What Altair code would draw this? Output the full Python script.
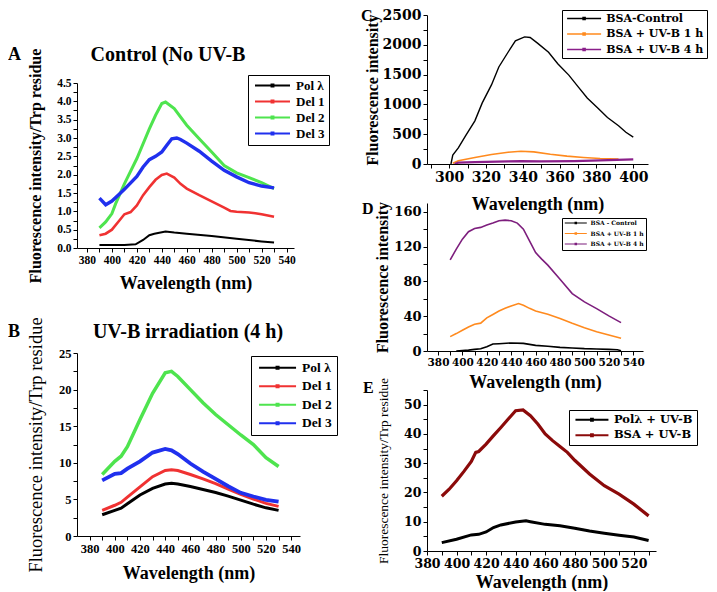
import altair as alt
import pandas as pd

SERIF = "Liberation Serif"
WIDE = "DejaVu Serif"
# legend symbol: a line running from 0 to 5*sqrt(size) px with a small marker in its middle
SYM = "M-1,0H9M3.7,-0.3H4.3V0.3H3.7Z"

# ---------------- Panel A : Control (No UV-B) ----------------
A_TITLE = "Control (No UV-B"
A_SERIES = ["Pol λ", "Del 1", "Del 2", "Del 3"]
A_COLORS = ["#000000", "#f03232", "#4ee44e", "#2030ee"]
A_WIDTHS = [2, 2.6, 3, 3.4]
A_POL_WL = [390, 400, 410, 419, 425, 430, 434, 443, 450, 460, 480, 500, 520, 530]
A_POL = [0.08, 0.08, 0.085, 0.10, 0.22, 0.35, 0.39, 0.45, 0.42, 0.39, 0.33, 0.25, 0.18, 0.15]
A_DEL1_WL = [390, 395, 400, 405, 410, 415, 420, 425, 430, 435, 440, 444, 450, 455, 460,
             470, 480, 490, 495, 500, 510, 515, 520, 530]
A_DEL1 = [0.35, 0.39, 0.50, 0.71, 0.92, 0.98, 1.16, 1.44, 1.66, 1.86, 1.99, 2.03, 1.92, 1.75,
          1.62, 1.44, 1.27, 1.10, 1.01, 0.99, 0.97, 0.95, 0.92, 0.85]
A_DEL2_WL = [390, 395, 400, 403, 410, 420, 430, 435, 440, 443, 450, 460, 470, 480, 490, 500,
             510, 520, 530]
A_DEL2 = [0.55, 0.71, 0.94, 1.21, 1.75, 2.44, 3.25, 3.62, 3.94, 3.98, 3.80, 3.35, 2.98, 2.62,
          2.25, 2.05, 1.92, 1.78, 1.62]
A_DEL3_WL = [390, 395, 400, 405, 410, 420, 425, 430, 435, 440, 444, 448, 452, 455, 460, 470,
             480, 490, 500, 510, 520, 530]
A_DEL3 = [1.36, 1.18, 1.28, 1.44, 1.60, 1.95, 2.21, 2.41, 2.50, 2.62, 2.80, 2.98, 3.00, 2.96,
          2.86, 2.64, 2.37, 2.12, 1.94, 1.78, 1.69, 1.64]

# ---------------- Panel B : UV-B irradiation (4 h) ----------------
B_TITLE = "UV-B irradiation (4 h)"
B_SERIES = ["Pol λ", "Del 1", "Del 2", "Del 3"]
B_COLORS = ["#000000", "#f03232", "#4ee44e", "#2030ee"]
B_WIDTHS = [3, 3, 3.5, 3.8]
B_WL = [390, 400, 405, 410, 420, 430, 440, 445, 450, 460, 470, 480, 490, 500, 510, 520, 530]
B_POL = [2.9, 3.5, 3.8, 4.4, 5.6, 6.5, 7.1, 7.2, 7.1, 6.75, 6.35, 5.95, 5.45, 4.9, 4.35, 3.85, 3.5]
B_DEL1 = [3.5, 4.2, 4.6, 5.3, 6.7, 8.1, 8.95, 9.05, 8.95, 8.4, 7.8, 7.15, 6.4, 5.7, 5.05, 4.45, 4.05]
B_DEL2 = [8.4, 10.2, 10.9, 12.2, 15.9, 19.5, 22.3, 22.5, 21.8, 20.0, 18.2, 16.6, 15.2, 13.8, 12.5,
          10.7, 9.5]
B_DEL3 = [7.6, 8.5, 8.6, 9.2, 10.2, 11.4, 11.9, 11.7, 11.2, 9.9, 8.8, 7.8, 6.8, 5.9, 5.4, 4.95, 4.7]

# ---------------- Panel C ----------------
C_SERIES = ["BSA-Control", "BSA + UV-B 1 h", "BSA + UV-B 4 h"]
C_COLORS = ["#000000", "#ff8a1e", "#8a1f8a"]
C_WIDTHS = [1.4, 1.6, 2.2]
C_CTRL_WL = [301, 302, 305, 309, 314, 318, 323, 327, 332, 336, 341, 344, 348, 354, 359, 365, 370,
             375, 381, 386, 392, 396, 400]
C_CTRL = [0, 150, 270, 477, 724, 1025, 1327, 1628, 1875, 2067, 2133, 2122, 2028, 1875, 1683, 1491,
          1299, 1107, 932, 779, 641, 532, 450]
C_UV1_WL = [302, 305, 314, 323, 332, 339, 346, 355, 364, 373, 382, 392]
C_UV1 = [11, 55, 110, 159, 197, 214, 203, 164, 132, 110, 93, 82]
C_UV4_WL = [303, 305, 314, 332, 339, 350, 368, 382, 400]
C_UV4 = [0, 22, 33, 44, 49, 44, 49, 60, 77]

# ---------------- Panel D ----------------
D_SERIES = ["BSA - Control", "BSA + UV-B 1 h", "BSA + UV-B 4 h"]
D_COLORS = ["#000000", "#ff8a1e", "#7d1e7d"]
D_WIDTHS = [1.6, 1.6, 1.6]
D_CTRL_WL = [395, 400, 405, 410, 415, 420, 425, 430, 440, 450, 460, 470, 480, 490, 500, 510, 520,
             527, 530]
D_CTRL = [0, 0.5, 1, 1.9, 2.5, 5, 8, 8.4, 9.2, 8.8, 6.5, 5.4, 4.2, 3.5, 2.7, 2.3, 1.9, 1.5, 0.4]
D_UV1_WL = [390, 395, 400, 405, 410, 415, 420, 425, 430, 435, 440, 446, 450, 455, 460, 470, 480,
            490, 500, 510, 520, 530]
D_UV1 = [16.5, 20, 23.8, 27.5, 30.7, 32, 38, 42, 46, 49, 51.8, 54.5, 52.5, 49, 46, 42.2, 37.2,
         31.8, 26.8, 22.2, 18.4, 14.6]
D_UV4_WL = [390, 395, 400, 405, 410, 415, 420, 425, 430, 435, 440, 445, 450, 455, 460, 465, 470,
            480, 490, 500, 510, 520, 530]
D_UV4 = [104.7, 117, 128.5, 137, 140.7, 142, 144.6, 146.9, 149.6, 150.3, 149.6, 146.9, 140, 126.6,
         113, 105.5, 98.6, 82.5, 66, 56.4, 48.7, 40.3, 32.6]

# ---------------- Panel E ----------------
E_SERIES = ["Polλ + UV-B", "BSA + UV-B"]
E_COLORS = ["#000000", "#8b0a0a"]
E_WIDTHS = [3, 3.2]
E_POL_WL = [390, 400, 410, 415, 420, 425, 430, 440, 447, 450, 460, 470, 480, 490, 500, 510, 520, 530]
E_POL = [2.85, 4, 5.5, 5.7, 6.5, 8, 8.9, 9.9, 10.3, 10, 9.1, 8.6, 7.8, 6.8, 6.1, 5.4, 4.8, 3.6]
E_BSA_WL = [390, 395, 400, 405, 410, 413, 415, 420, 425, 430, 435, 440, 445, 450, 455, 460, 465,
            470, 475, 480, 490, 500, 510, 520, 530]
E_BSA = [18.7, 21.1, 24, 27.2, 30.6, 33.7, 34, 36.5, 39.4, 42.2, 45.1, 47.9, 48.2, 46.2, 43.4, 40,
         37.7, 35.7, 33.7, 31, 26.3, 22.3, 19.4, 16, 12]


def long_df(names, wls, vals):
    rows = []
    for name, wl, v in zip(names, wls, vals):
        for x, y in zip(wl, v):
            rows.append({"wl": x, "val": y, "series": name})
    return pd.DataFrame(rows)


def text_layer(txt, x, y, size, weight="bold", align="left", baseline="middle", font=SERIF):
    return alt.Chart(pd.DataFrame({"t": [txt]})).mark_text(
        font=font, fontSize=size, fontWeight=weight, align=align, baseline=baseline,
        color="black").encode(text="t:N", x=alt.value(x), y=alt.value(y))


def anchor_layer(x, y):
    return alt.Chart(pd.DataFrame({"a": [0]})).mark_rule(strokeOpacity=0, strokeWidth=0).encode(
        x=alt.value(x), y=alt.value(y), y2=alt.value(y + 1))


def panel(df, series, colors, widths, xdom, ydom, w, h, xvals, xlab_expr, yvals, ylab_expr,
          xaxis_style, yaxis_style, legend, extra_layers):
    xa = alt.Axis(values=xvals, labelExpr=xlab_expr, grid=False, domainColor="black",
                  tickColor="black", tickSize=4, labelColor="black", labelPadding=2,
                  labelOverlap=False, labelFlush=False, titleColor="black",
                  titleBaseline="middle", **xaxis_style)
    ya = alt.Axis(values=yvals, labelExpr=ylab_expr, grid=False, domainColor="black",
                  tickColor="black", tickSize=4, labelColor="black", labelPadding=2,
                  labelOverlap=False, labelFlush=False, titleColor="black",
                  titleBaseline="middle", titleAngle=-90, **yaxis_style)
    layers = []
    for s, sw in zip(series, widths):
        layers.append(
            alt.Chart(df).transform_filter(alt.datum.series == s).mark_line(
                clip=True, strokeWidth=sw).encode(
                x=alt.X("wl:Q", scale=alt.Scale(domain=xdom, nice=False, zero=False), axis=xa),
                y=alt.Y("val:Q", scale=alt.Scale(domain=ydom, nice=False, zero=False), axis=ya),
                color=alt.Color("series:N", scale=alt.Scale(domain=series, range=colors),
                                legend=legend, sort=series),
            ))
    return alt.layer(*layers, *extra_layers).properties(width=w, height=h)


def leg(x, y, font, size, line_len, rowpad, pad, stroke=1.8):
    s = line_len / 5.0
    return alt.Legend(title=None, orient="none", legendX=x, legendY=y, direction="vertical",
                      strokeColor="black", fillColor="white", padding=pad, cornerRadius=0,
                      symbolType=SYM, symbolSize=s * s, symbolStrokeWidth=stroke,
                      labelFont=font, labelFontSize=size, labelFontWeight="bold",
                      labelColor="black", rowPadding=rowpad, labelOffset=line_len - s + 3)


def ticks(lo, hi, step):
    out = []
    v = lo
    while v <= hi + 1e-9:
        out.append(round(v, 4))
        v += step
    return out


LAB20 = "datum.value % 20 == 0 ? format(datum.value, 'd') : ''"

# ----- A -----
dfA = long_df(A_SERIES, [A_POL_WL, A_DEL1_WL, A_DEL2_WL, A_DEL3_WL], [A_POL, A_DEL1, A_DEL2, A_DEL3])
chA = panel(
    dfA, A_SERIES, A_COLORS, A_WIDTHS, [372, 546], [0, 4.5], 217, 165,
    ticks(380, 540, 10), LAB20, ticks(0, 4.5, 0.25),
    "(datum.value * 2) % 1 == 0 ? format(datum.value, '.1f') : ''",
    dict(title="Wavelength (nm)", labelFont=SERIF, labelFontSize=11.5, labelFontWeight="bold",
         titleFont=SERIF, titleFontSize=18, titleFontWeight="bold", titleY=35),
    dict(title="Fluorescence intensity/Trp residue", labelFont=SERIF, labelFontSize=11.5,
         labelFontWeight="bold", titleFont=SERIF, titleFontSize=16, titleFontWeight="bold",
         titleX=-42),
    leg(171, -8, SERIF, 13, 35, 2, 4),
    [text_layer("A", -69, -28, 18), text_layer(A_TITLE, 91, -28, 20, align="center")],
)

# ----- B -----
dfB = long_df(B_SERIES, [B_WL] * 4, [B_POL, B_DEL1, B_DEL2, B_DEL3])
chB = panel(
    dfB, B_SERIES, B_COLORS, B_WIDTHS, [370, 547], [0, 25], 223, 183,
    ticks(380, 540, 10), LAB20, ticks(0, 25, 2.5),
    "datum.value % 5 == 0 ? format(datum.value, 'd') : ''",
    dict(title="Wavelength (nm)", labelFont=SERIF, labelFontSize=12.5, labelFontWeight="bold",
         titleFont=SERIF, titleFontSize=18, titleFontWeight="bold", titleY=37),
    dict(title="Fluorescence intensity/Trp residue", labelFont=SERIF, labelFontSize=12.5,
         labelFontWeight="bold", titleFont=SERIF, titleFontSize=18.5, titleFontWeight="normal",
         titleX=-42),
    leg(174, 3, SERIF, 13.5, 37, 3.5, 5),
    [text_layer("B", -69, -21, 18), text_layer(B_TITLE, 111, -21, 20, align="center"),
     anchor_layer(262, 0)],
)

# ----- C -----
dfC = long_df(C_SERIES, [C_CTRL_WL, C_UV1_WL, C_UV4_WL], [C_CTRL, C_UV1, C_UV4])
chC = panel(
    dfC, C_SERIES, C_COLORS, C_WIDTHS, [288, 408], [0, 2500], 221, 149,
    ticks(290, 400, 10), LAB20, ticks(0, 2500, 250),
    "datum.value % 500 == 0 ? format(datum.value, 'd') : ''",
    dict(title="Wavelength (nm)", labelFont=WIDE, labelFontSize=14, labelFontWeight="bold",
         titleFont=SERIF, titleFontSize=18, titleFontWeight="bold", titleY=40),
    dict(title="Fluorescence intensity", labelFont=WIDE, labelFontSize=14,
         labelFontWeight="bold", titleFont=SERIF, titleFontSize=16, titleFontWeight="bold",
         titleX=-55),
    leg(135, -5, WIDE, 11, 34, 3.5, 3, stroke=1.5),
    [text_layer("C", -66, 1, 16)],
)

# ----- D -----
dfD = long_df(D_SERIES, [D_CTRL_WL, D_UV1_WL, D_UV4_WL], [D_CTRL, D_UV1, D_UV4])
chD = panel(
    dfD, D_SERIES, D_COLORS, D_WIDTHS, [371, 548], [0, 170], 216, 148,
    ticks(380, 540, 10), LAB20, ticks(0, 160, 20),
    "datum.value % 40 == 0 ? format(datum.value, 'd') : ''",
    dict(title="Wavelength (nm)", labelFont=WIDE, labelFontSize=10.5, labelFontWeight="bold",
         titleFont=SERIF, titleFontSize=18, titleFontWeight="bold", titleY=31),
    dict(title="Fluorescence intensity", labelFont=WIDE, labelFontSize=13,
         labelFontWeight="bold", titleFont=SERIF, titleFontSize=16, titleFontWeight="bold",
         titleX=-45),
    leg(135, 15, WIDE, 6, 22, 2.5, 2, stroke=1.2),
    [text_layer("D", -65, 6, 16)],
)

# ----- E -----
dfE = long_df(E_SERIES, [E_POL_WL, E_BSA_WL], [E_POL, E_BSA])
chE = panel(
    dfE, E_SERIES, E_COLORS, E_WIDTHS, [380, 535], [0, 55], 229, 161,
    ticks(380, 530, 10), LAB20, ticks(0, 55, 5),
    "datum.value % 10 == 0 ? format(datum.value, 'd') : ''",
    dict(title="Wavelength (nm)", labelFont=WIDE, labelFontSize=12.5, labelFontWeight="bold",
         titleFont=SERIF, titleFontSize=18, titleFontWeight="bold", titleY=31),
    dict(title="Fluorescence intensity/Trp residue", labelFont=WIDE, labelFontSize=12.5,
         labelFontWeight="bold", titleFont=SERIF, titleFontSize=13.5, titleFontWeight="normal",
         titleX=-44),
    leg(142, 20, WIDE, 11.5, 33, 2.5, 4),
    [text_layer("E", -64, -2, 16)],
)

spacer = alt.Chart(pd.DataFrame({"a": [0]})).mark_rule(strokeOpacity=0, strokeWidth=0).encode(
    x=alt.value(0), y=alt.value(0), y2=alt.value(1)).properties(width=10, height=68)

left_inner = alt.vconcat(chA, chB, spacing=105, bounds="flush").resolve_scale(color="independent")
left = alt.vconcat(spacer, left_inner, spacing=0, bounds="flush").resolve_scale(color="independent")
right = alt.vconcat(chC, chD, chE, spacing=39, bounds="flush").resolve_scale(color="independent")

chart = alt.hconcat(left, right, spacing=22).resolve_scale(color="independent").properties(
    padding=0, background="white").configure_view(stroke=None)

chart.save("out.html", embed_options={"renderer": "svg", "actions": False})
